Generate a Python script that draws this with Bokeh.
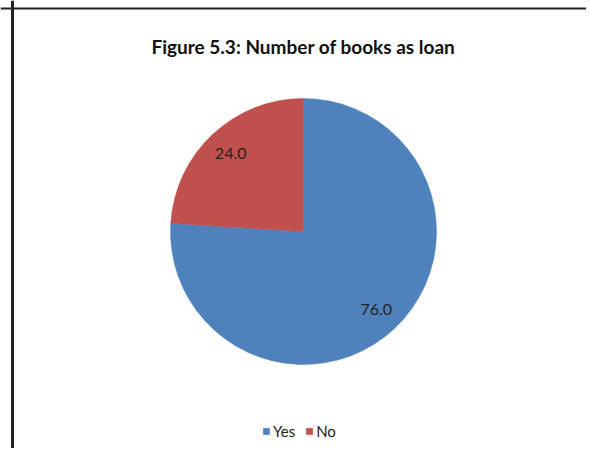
import math
from bokeh.plotting import figure
from bokeh.models import ColumnDataSource, Range1d, Span, Label, Legend, LegendItem
from bokeh.core.properties import value
from bokeh.embed import file_html
from bokeh.resources import INLINE

categories = ["Yes", "No"]
percent = [76.0, 24.0]
colors = ["#4F81BD", "#C0504D"]
title_text = "Figure 5.3: Number of books as loan"

W, H = 586, 448
p = figure(width=W, height=H, output_backend="svg", toolbar_location=None,
           x_range=Range1d(0, W), y_range=Range1d(0, H),
           min_border=0, min_border_left=0, min_border_right=0,
           min_border_top=0, min_border_bottom=0)
p.axis.visible = False
p.grid.visible = False
p.outline_line_color = None
p.background_fill_color = "white"
p.border_fill_color = "white"

cx, cy, r = 303, 217, 133
total = sum(percent)
starts, ends, lx, ly, labels = [], [], [], [], []
cum = 0.0
for v in percent:
    a0 = math.pi / 2 - 2 * math.pi * cum / total
    a1 = math.pi / 2 - 2 * math.pi * (cum + v) / total
    starts.append(a0)
    ends.append(a1)
    mid = (a0 + a1) / 2
    lx.append(cx + 0.8 * r * math.cos(mid))
    ly.append(cy + 0.8 * r * math.sin(mid))
    labels.append(f"{v:.1f}")
    cum += v

src = ColumnDataSource(dict(cat=categories, val=percent, start=starts, end=ends,
                            color=colors, lx=lx, ly=ly, label=labels))

w = p.wedge(x=cx, y=cy, radius=r, start_angle="start", end_angle="end",
            direction="clock", fill_color="color", line_color="color",
            line_width=0.5, source=src)

p.text(x="lx", y="ly", text="label", source=src, text_font=value("Lato"),
       text_font_size="16px", text_color="#222222", text_align="center",
       text_baseline="middle")

p.add_layout(Label(x=303, y=402, text=title_text, text_font="Lato",
                   text_font_style="bold", text_font_size="19px",
                   text_color="#111111", text_align="center",
                   text_baseline="middle"))

legend = Legend(items=[LegendItem(label=c, renderers=[w], index=i)
                       for i, c in enumerate(categories)],
                orientation="horizontal", location=(262, 8),
                label_text_font="Lato", label_text_font_size="15px",
                label_text_color="#222222", glyph_width=8, glyph_height=8,
                spacing=10, label_standoff=3, border_line_color=None,
                background_fill_alpha=0, margin=0, padding=2)
p.add_layout(legend)

p.add_layout(Span(location=12, dimension="height", line_color="#222222", line_width=3))
p.add_layout(Span(location=440, dimension="width", line_color="#222222", line_width=2))

open("out.html", "w").write(file_html(p, INLINE))
